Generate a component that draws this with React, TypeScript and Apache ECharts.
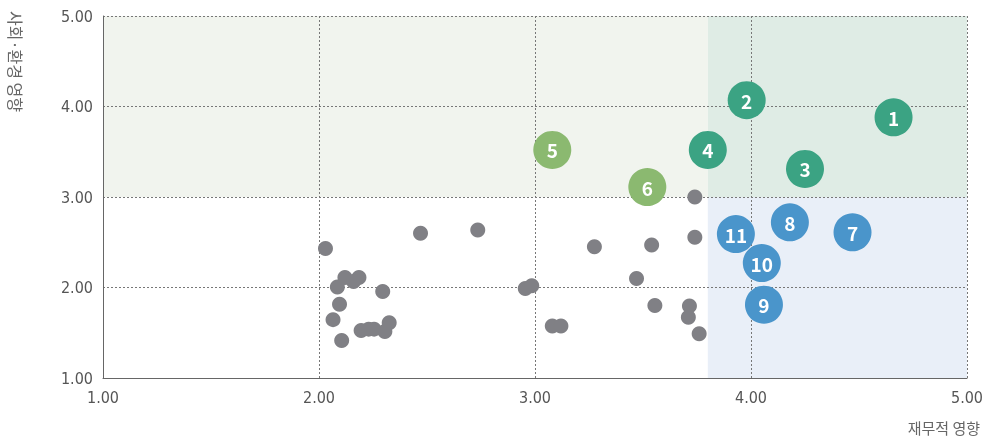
import React, { useEffect, useRef } from "react";
import * as echarts from "echarts";

// Numbered material topics
const topicLabels = ["1", "2", "3", "4", "5", "6", "7", "8", "9", "10", "11"];
const topicX = [4.66, 3.98, 4.25, 3.8, 3.08, 3.52, 4.47, 4.18, 4.06, 4.05, 3.93];
const topicY = [3.88, 4.07, 3.31, 3.52, 3.52, 3.11, 2.61, 2.72, 1.81, 2.27, 2.59];
const topicGroup = ["both", "both", "both", "both", "social", "social", "fin", "fin", "fin", "fin", "fin"];

// Other (unnumbered) issues
const otherX = [
  2.03, 2.47, 2.735, 2.12, 2.185, 2.16, 2.085, 2.295, 2.095, 2.065, 2.105, 2.195, 2.23, 2.255, 2.305, 2.325,
  2.955, 2.985, 3.08, 3.12, 3.275, 3.54, 3.74, 3.74, 3.47, 3.555, 3.715, 3.71, 3.76,
];
const otherY = [
  2.43, 2.6, 2.635, 2.11, 2.11, 2.065, 2.005, 1.955, 1.815, 1.645, 1.415, 1.525, 1.54, 1.54, 1.515, 1.61,
  1.99, 2.02, 1.575, 1.575, 2.45, 2.47, 2.555, 3.0, 2.1, 1.8, 1.795, 1.67, 1.49,
];

const axisTicks = [1, 2, 3, 4, 5];
const xAxisName = "재무적 영향";
const yAxisName = "사회·환경 영향";
const threshold = 3.8;
const yThreshold = 3;

const groupColors: Record<string, string> = {
  both: "#3BA383",
  social: "#8BB970",
  fin: "#4A95CB",
};

const FONT = "'Noto Sans CJK KR', 'Noto Sans', sans-serif";
const NUM_FONT = "'DejaVu Sans Condensed', 'Noto Sans', sans-serif";

export default function App() {
  const ref = useRef<HTMLDivElement>(null);
  useEffect(() => {
    if (!ref.current) return;
    const chart = echarts.init(ref.current, undefined, { renderer: "svg" });
    const axisCommon = {
      type: "value",
      min: axisTicks[0],
      max: axisTicks[axisTicks.length - 1],
      interval: 1,
      z: 2,
      axisLine: { show: true, lineStyle: { color: "#666", width: 1 } },
      axisTick: { show: false },
      splitLine: { show: true, lineStyle: { color: "#777", type: [2, 2], width: 1 } },
      axisLabel: {
        color: "#555",
        fontSize: 16,
        fontFamily: NUM_FONT,
        formatter: (v: number) => v.toFixed(2),
      },
    };
    chart.setOption({
      animation: false,
      grid: { left: 103, right: 17, top: 16, bottom: 63, outerBoundsMode: "none", containLabel: false },
      xAxis: { ...axisCommon, axisLabel: { ...axisCommon.axisLabel, margin: 11 } },
      yAxis: { ...axisCommon, axisLabel: { ...axisCommon.axisLabel, margin: 10 } },
      graphic: [
        {
          type: "text",
          x: 16,
          y: 11,
          rotation: -Math.PI / 2,
          style: {
            text: yAxisName,
            fill: "#666",
            fontSize: 16,
            fontFamily: FONT,
            textAlign: "left",
            textVerticalAlign: "middle",
          },
        },
        {
          type: "text",
          right: 4,
          top: 420,
          style: {
            text: xAxisName,
            fill: "#666",
            fontSize: 15,
            fontFamily: FONT,
          },
        },
      ],
      series: [
        {
          type: "scatter",
          z: 0,
          data: [],
          silent: true,
          markArea: {
            silent: true,
            z: 1,
            data: [
              [
                { xAxis: axisTicks[0], yAxis: yThreshold, itemStyle: { color: "#F1F4EE" } },
                { xAxis: threshold, yAxis: axisTicks[4] },
              ],
              [
                { xAxis: threshold, yAxis: yThreshold, itemStyle: { color: "#DFECE5" } },
                { xAxis: axisTicks[4], yAxis: axisTicks[4] },
              ],
              [
                { xAxis: threshold, yAxis: axisTicks[0], itemStyle: { color: "#E9EFF8" } },
                { xAxis: axisTicks[4], yAxis: yThreshold },
              ],
            ],
          },
        },
        {
          type: "scatter",
          z: 3,
          symbolSize: 15,
          itemStyle: { color: "#808085", opacity: 1 },
          data: otherX.map((x, i) => [x, otherY[i]]),
        },
        {
          type: "scatter",
          z: 4,
          symbolSize: 38,
          data: topicX.map((x, i) => ({
            value: [x, topicY[i]],
            name: topicLabels[i],
            itemStyle: { color: groupColors[topicGroup[i]], opacity: 1 },
          })),
          label: {
            show: true,
            position: "inside",
            formatter: (p: any) => p.name,
            color: "#fff",
            fontSize: 19,
            fontWeight: "bold",
            fontFamily: FONT,
          },
        },
      ],
    });
    return () => chart.dispose();
  }, []);
  return <div ref={ref} style={{ position: "fixed", left: 0, top: 0, width: 984, height: 441 }} />;
}
